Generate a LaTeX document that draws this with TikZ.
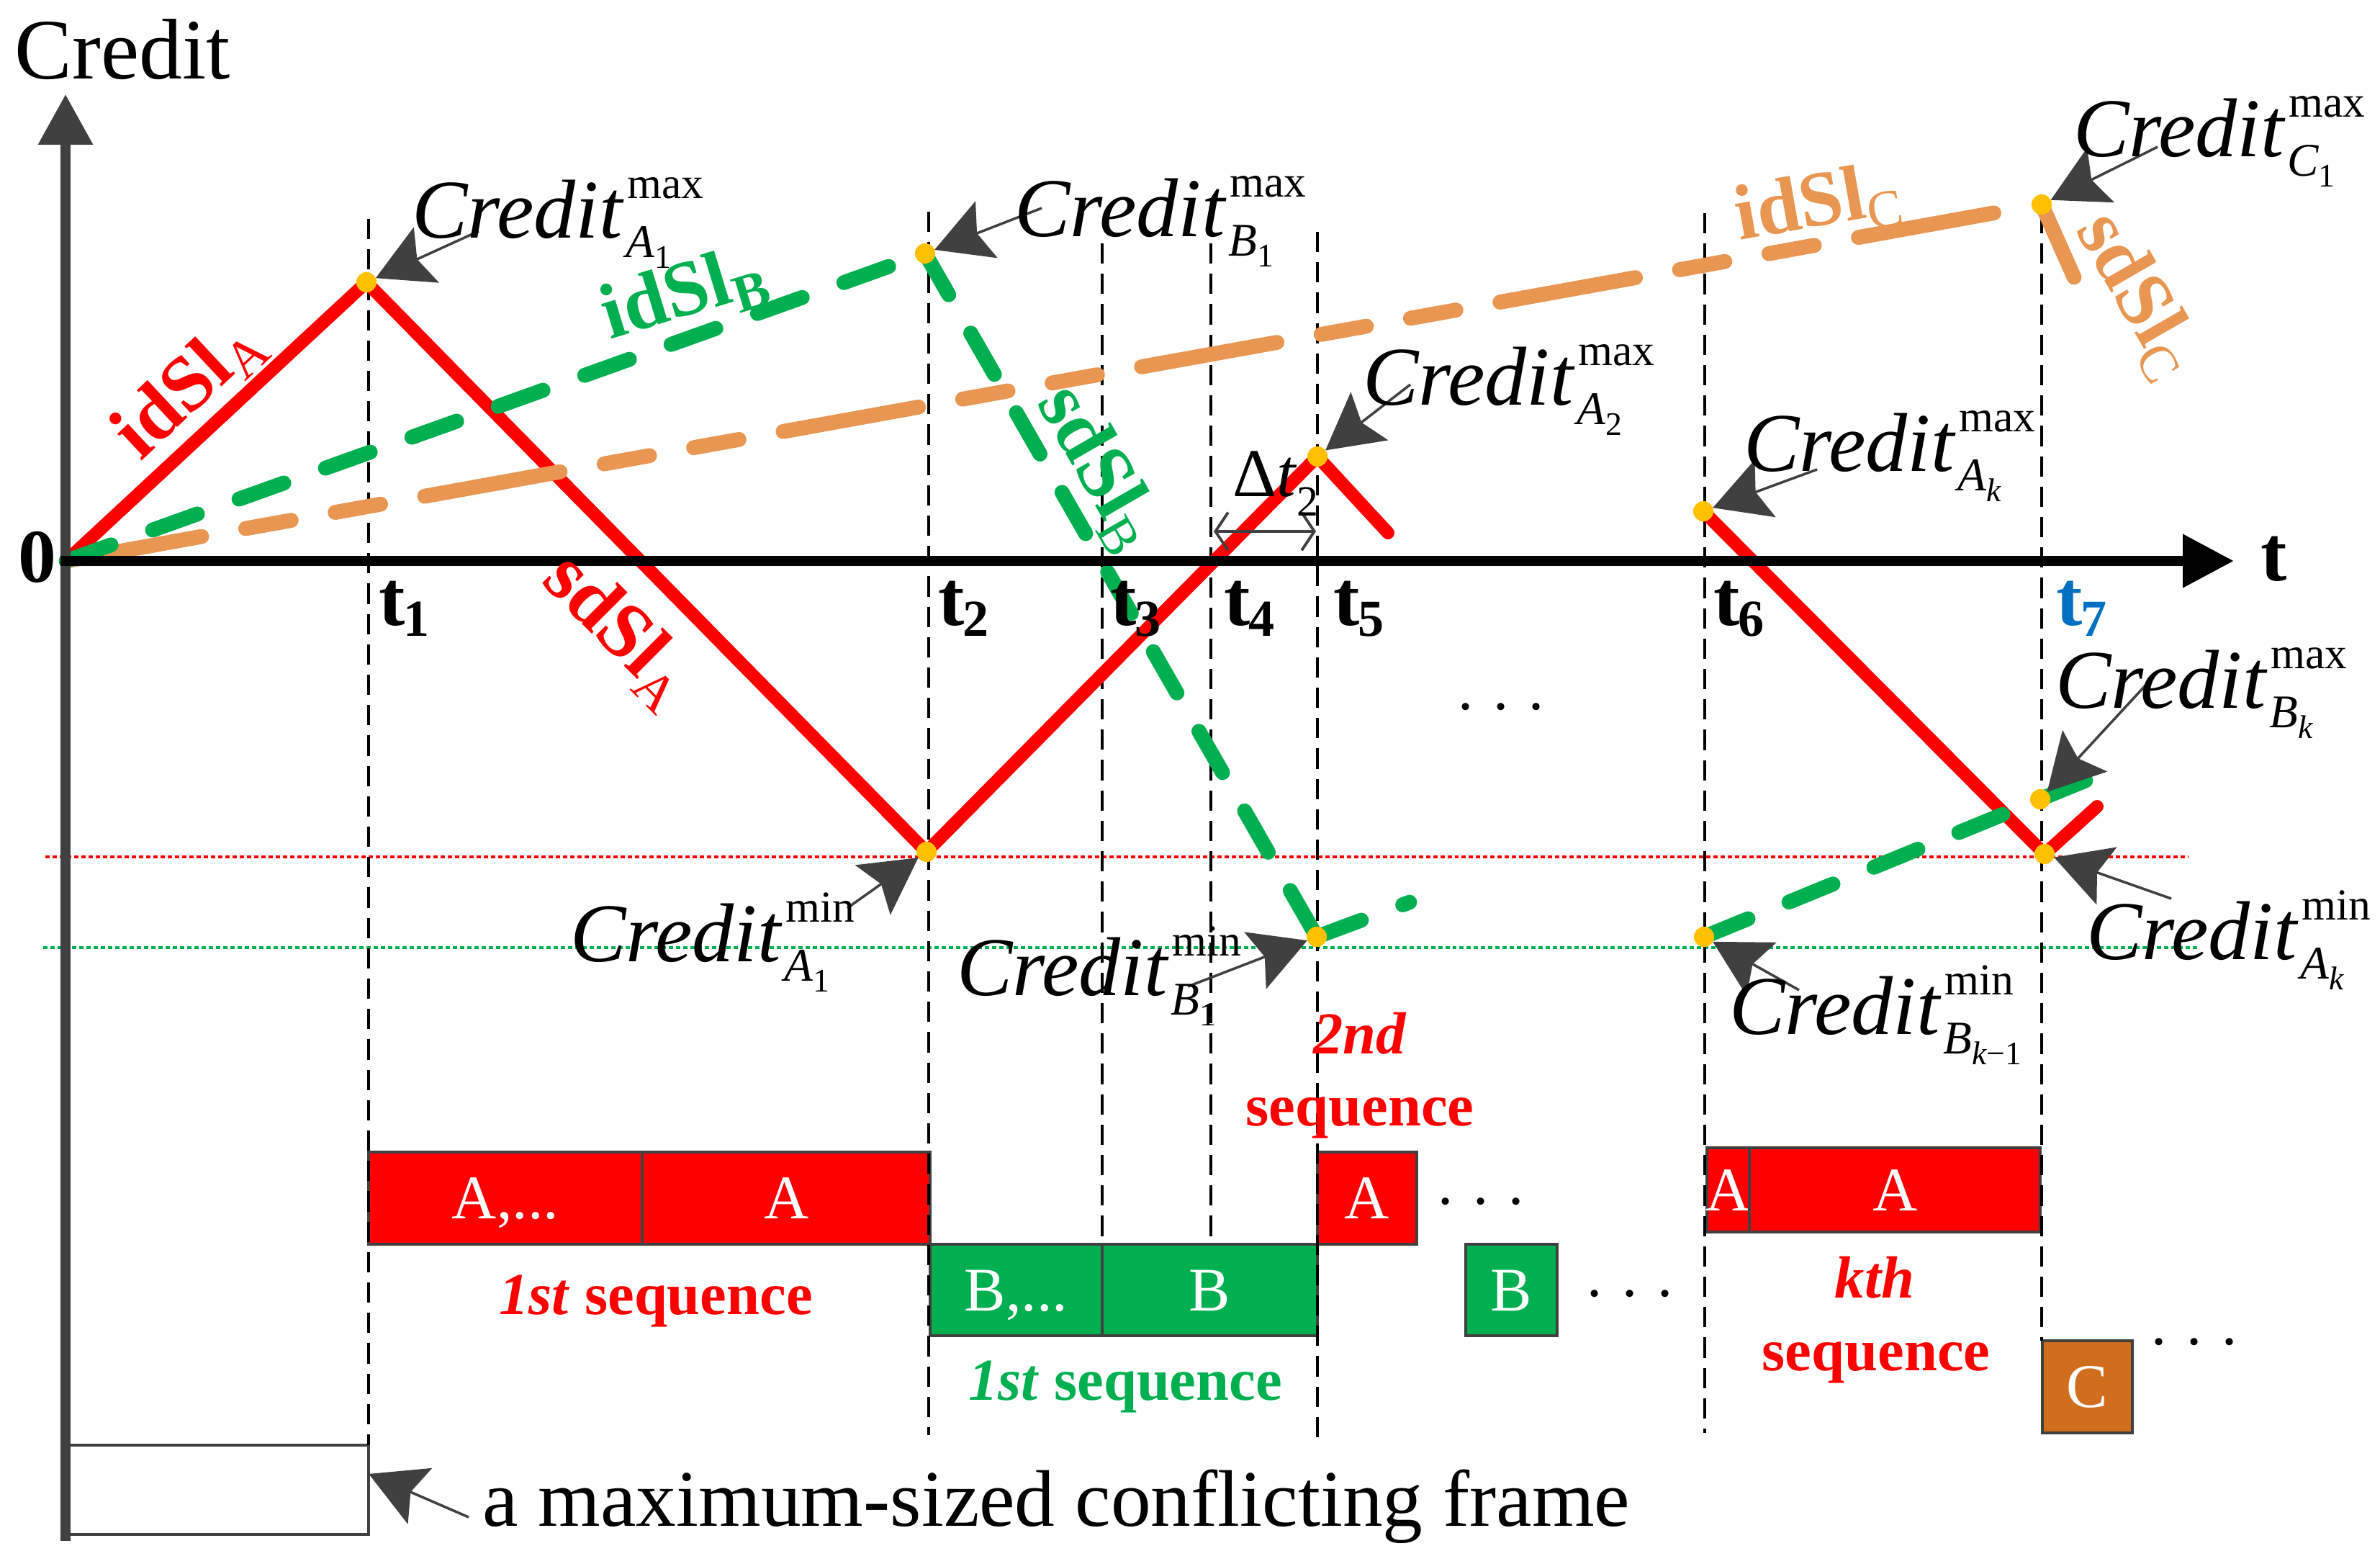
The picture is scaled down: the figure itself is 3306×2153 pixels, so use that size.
\documentclass[tikz,border=0pt]{standalone}
\usepackage{fontspec}
\setmainfont{Liberation Serif}
\usetikzlibrary{arrows.meta}
\definecolor{cred}{HTML}{FF0000}
\definecolor{cgreen}{HTML}{00B050}
\definecolor{corange}{HTML}{E99652}
\definecolor{cyel}{HTML}{FFC000}
\definecolor{cgrey}{HTML}{404040}
\definecolor{cblue}{HTML}{0070C0}
\definecolor{cbrown}{HTML}{D06E1E}
\newcommand\setfs[1]{\fontsize{#1}{#1}\selectfont}
\newcommand\crdl[3]{{\setfs{33pt}\itshape Credit}\rlap{\kern1.5pt\raisebox{-7.7pt}{\setfs{18.5pt}\itshape #2\raisebox{-4.5pt}{\setfs{13pt}\upshape #3}}}\kern2pt\raisebox{15.4pt}{\setfs{17.5pt}\upshape #1}}
\newcommand\tlab[1]{t\kern-0.5pt\raisebox{-4.5pt}{\setfs{20.5pt}#1}}
\newcommand\slab[2]{#1\raisebox{-5pt}{\setfs{21pt}#2}}
\begin{document}
\begin{tikzpicture}[x=0.01cm,y=-0.01cm,
  every node/.style={inner sep=0pt,outer sep=0pt},
  redline/.style={draw=cred,line width=5.1pt,line cap=round,line join=round},
  greenline/.style={draw=cgreen,line width=5.9pt,line cap=round,dash pattern=on 18.78pt off 17.47pt},
  orangeline/.style={draw=corange,line width=5.9pt,line cap=round,dash pattern=on 54.35pt off 17.7pt on 18.21pt off 17.7pt on 18.21pt off 17.7pt},
  orangesolid/.style={draw=corange,line width=5.9pt,line cap=round},
  vdash/.style={draw=black,line width=1.14pt,dash pattern=on 8pt off 4pt},
  hdot/.style={line width=1.14pt,dash pattern=on 1.7pt off 1.14pt},
  dotpt/.style={circle,fill=cyel,minimum size=8pt},
  callout/.style={draw=cgrey,line width=1pt,-{Stealth[length=22pt,width=24pt,inset=4pt]}},
  block/.style={draw=cgrey,line width=1.2pt,text=white,font=\setfs{24.5pt},anchor=north west,text height=16.2pt,text depth=0pt},
  tl/.style={anchor=base west,font=\setfs{31pt}\bfseries},
  cl/.style={anchor=base west},
  sl/.style={font=\setfs{31pt}\bfseries},
  seq/.style={anchor=base,font=\setfs{23.5pt}\bfseries,text=cred},
  ell/.style={anchor=base,font=\setfs{24pt}}]
\useasboundingbox (0,0) rectangle (3306,2153);

% key coordinates
\coordinate (O) at (92,779);
\coordinate (cA1) at (509,392);
\coordinate (cmA1) at (1287,1183);
\coordinate (cA2) at (1830,634);
\coordinate (rE1) at (1928,740);
\coordinate (cAk) at (2366,710);
\coordinate (cmAk) at (2840,1186);
\coordinate (rE2) at (2913,1120);
\coordinate (cB1) at (1285,352);
\coordinate (cmB1) at (1829,1301);
\coordinate (gE1) at (1958,1253);
\coordinate (cmBk) at (2367,1301);
\coordinate (cBk) at (2834,1110);
\coordinate (gE2) at (2897,1084);
\coordinate (cC1) at (2836,284);
\coordinate (oE1) at (2818,287);
\coordinate (oE2) at (2881,385);

% horizontal dotted reference lines
\coordinate (hr1) at (63,1190); \coordinate (hr2) at (3040,1190);
\coordinate (hg1) at (60,1316); \coordinate (hg2) at (3056,1316);
\draw[hdot,cred] (hr1) -- (hr2);
\draw[hdot,cgreen] (hg1) -- (hg2);

% blocks
\node[block,fill=white,minimum width=420*0.28453pt,minimum height=124*0.28453pt] (box) at (92,2007) {};
\node[block,fill=cred,minimum width=380*0.28453pt,minimum height=128*0.28453pt] (b1) at (512,1600) {A,...};
\node[block,fill=cred,minimum width=400*0.28453pt,minimum height=128*0.28453pt] (b2) at (892,1600) {A};
\node[block,fill=cgreen,minimum width=239*0.28453pt,minimum height=127*0.28453pt] (g1) at (1292,1728) {B,...};
\node[block,fill=cgreen,minimum width=299*0.28453pt,minimum height=127*0.28453pt] (g2) at (1531,1728) {B};
\node[block,fill=cred,minimum width=138*0.28453pt,minimum height=128*0.28453pt] (b3) at (1830,1600) {A};
\node[block,fill=cgreen,minimum width=127*0.28453pt,minimum height=127*0.28453pt] (g3) at (2036,1728) {B};
\node[block,fill=cred,minimum width=59*0.28453pt,minimum height=117*0.28453pt] (b4) at (2371,1594) {\makebox[0pt]{A}};
\node[block,fill=cred,minimum width=404*0.28453pt,minimum height=117*0.28453pt] (b5) at (2430,1594) {A};
\node[block,fill=cbrown,minimum width=125*0.28453pt,minimum height=128*0.28453pt] (c1) at (2837,1862) {C};

% vertical dashed time lines
\coordinate (v1a) at (512,304);  \coordinate (v1b) at (512,2007);
\coordinate (v2a) at (1290,294); \coordinate (v2b) at (1290,1993);
\coordinate (v3a) at (1531,338); \coordinate (v3b) at (1531,1728);
\coordinate (v4a) at (1682,338); \coordinate (v4b) at (1682,1728);
\coordinate (v5a) at (1830,322); \coordinate (v5b) at (1830,2003);
\coordinate (v6a) at (2368,296); \coordinate (v6b) at (2368,1990);
\coordinate (v7a) at (2836,296); \coordinate (v7b) at (2836,1862);
\foreach \i in {1,...,7} {\draw[vdash] (v\i a) -- (v\i b);}

% credit curves
\draw[redline] (O) -- (cA1) -- (cmA1) -- (cA2) -- (rE1);
\draw[redline] (cAk) -- (cmAk) -- (rE2);
\draw[orangeline] (O) -- (oE1);
\draw[orangesolid] (cC1) -- (oE2);
\draw[greenline] (O) -- (cB1);
\draw[greenline] (cB1) -- (cmB1);
\draw[greenline] (cmB1) -- (gE1);
\draw[greenline] (cmBk) -- (gE2);

% axes
\coordinate (yb) at (91,2140); \coordinate (yt) at (91,131);
\draw[draw=cgrey,line width=3.7pt,-{Triangle[length=19.9pt,width=20.8pt]}] (yb) -- (yt);
\coordinate (xl) at (84,779); \coordinate (xr) at (3103,779);
\draw[draw=black,line width=4pt,-{Triangle[length=20.2pt,width=20.2pt]}] (xl) -- (xr);

% extreme points
\node[dotpt] (pA1) at (cA1) {};
\node[dotpt] (mA1) at (cmA1) {};
\node[dotpt] (pA2) at (cA2) {};
\node[dotpt] (pAk) at (cAk) {};
\node[dotpt] (mAk) at (cmAk) {};
\node[dotpt] (pB1) at (cB1) {};
\node[dotpt] (mB1) at (cmB1) {};
\node[dotpt] (mBk) at (cmBk) {};
\node[dotpt] (pBk) at (cBk) {};
\node[dotpt] (pC1) at (cC1) {};

% callout arrows
\coordinate (aA1) at (665,321);
\coordinate (aB1) at (1447,289);
\coordinate (aA2) at (1959,534);
\coordinate (aAk) at (2524,652);
\coordinate (aC1) at (2997,204);
\coordinate (amA1) at (1177,1261);
\coordinate (amB1) at (1650,1370);
\coordinate (amBk) at (2499,1375);
\coordinate (aBk) at (2980,952);
\coordinate (amAk) at (3016,1248);
\coordinate (aBox) at (651,2107);
\draw[callout] (aA1) -- (pA1);
\draw[callout] (aB1) -- (pB1);
\draw[callout] (aA2) -- (pA2);
\draw[callout] (aAk) -- (pAk);
\draw[callout] (aC1) -- (pC1);
\draw[callout] (amA1) -- (mA1);
\draw[callout] (amB1) -- (mB1);
\draw[callout] (amBk) -- (mBk);
\draw[callout] (aBk) -- (pBk);
\draw[callout] (amAk) -- (mAk);
\draw[callout] (aBox) -- (box.6);

% delta t2
\coordinate (d1) at (1686,738); \coordinate (d2) at (1828,738);
\draw[draw=cgrey,line width=1.1pt,{Straight Barb[length=5pt,width=15pt]}-{Straight Barb[length=5pt,width=15pt]}] (d1) -- (d2);
\node[cl] (dt) at (1712,689) {\setfs{27pt}Δ\textit{t}\raisebox{-7.7pt}{\setfs{17pt}2}};

% credit labels
\node[cl] (lA1) at (572,330) {\crdl{max}{A}{1}};
\node[cl] (lB1) at (1409,328) {\crdl{max}{B}{1}};
\node[cl] (lA2) at (1893,562) {\crdl{max}{A}{2}};
\node[cl] (lAk) at (2422,654) {\crdl{max}{A}{\itshape k}};
\node[cl] (lC1) at (2880,217) {\crdl{max}{C}{1}};
\node[cl] (lmA1) at (792,1335) {\crdl{min}{A}{1}};
\node[cl] (lmB1) at (1329,1382) {\crdl{min}{B}{1}};
\node[cl] (lmBk) at (2402,1436) {\crdl{min}{B}{\itshape k\upshape −1}};
\node[cl] (lBk) at (2855,983) {\crdl{max}{B}{\itshape k}};
\node[cl] (lmAk) at (2898,1332) {\crdl{min}{A}{\itshape k}};

% slope labels
\node[sl,text=cred,rotate=43] (lidA) at (262,540) {\slab{idSl}{\mdseries A}};
\node[sl,text=cgreen,rotate=17] (lidB) at (950,410) {\slab{idSl}{B}};
\node[sl,text=cred,rotate=-45] (lsdA) at (858,875) {\slab{sdSl}{\mdseries A}};
\node[sl,text=cgreen,rotate=-60] (lsdB) at (1525,650) {\slab{sdSl}{\mdseries B}};
\node[sl,text=corange,rotate=10] (lidC) at (2525,285) {\slab{idSl}{\mdseries C}};
\node[sl,text=corange,rotate=-60] (lsdC) at (2968,410) {\slab{sdSl}{\mdseries C}};

% axis labels
\node[anchor=base west,font=\setfs{34pt}] (ttl) at (21,109) {Credit};
\node[anchor=base,font=\setfs{30pt}\bfseries] (zero) at (52,808) {0};
\node[tl] (tax) at (3140,806) {t};
\node[tl] (t1) at (526,868) {\tlab{1}};
\node[tl] (t2) at (1303,868) {\tlab{2}};
\node[tl] (t3) at (1542,868) {\tlab{3}};
\node[tl] (t4) at (1700,868) {\tlab{4}};
\node[tl] (t5) at (1852,868) {\tlab{5}};
\node[tl] (t6) at (2380,868) {\tlab{6}};
\node[tl,text=cblue] (t7) at (2856,868) {\tlab{7}};

% sequence labels
\node[seq] (s1) at (911,1825) {\textit{1st} sequence};
\node[seq,text=cgreen] (s1g) at (1563,1944) {\textit{1st} sequence};
\node[seq] (s2a) at (1889,1463) {\textit{2nd}};
\node[seq] (s2b) at (1889,1563) {sequence};
\node[seq] (ska) at (2604,1802) {\textit{kth}};
\node[seq] (skb) at (2606,1903) {sequence};

% ellipses
\node[ell] (e1) at (2085,985) {. . .};
\node[ell] (e2) at (2057,1672) {. . .};
\node[ell] (e3) at (2264,1800) {. . .};
\node[ell] (e4) at (3048,1867) {. . .};

% bottom caption
\node[anchor=base west,font=\setfs{31.7pt}] (cap) at (670,2119) {a maximum-sized conflicting frame};
\end{tikzpicture}
\end{document}
